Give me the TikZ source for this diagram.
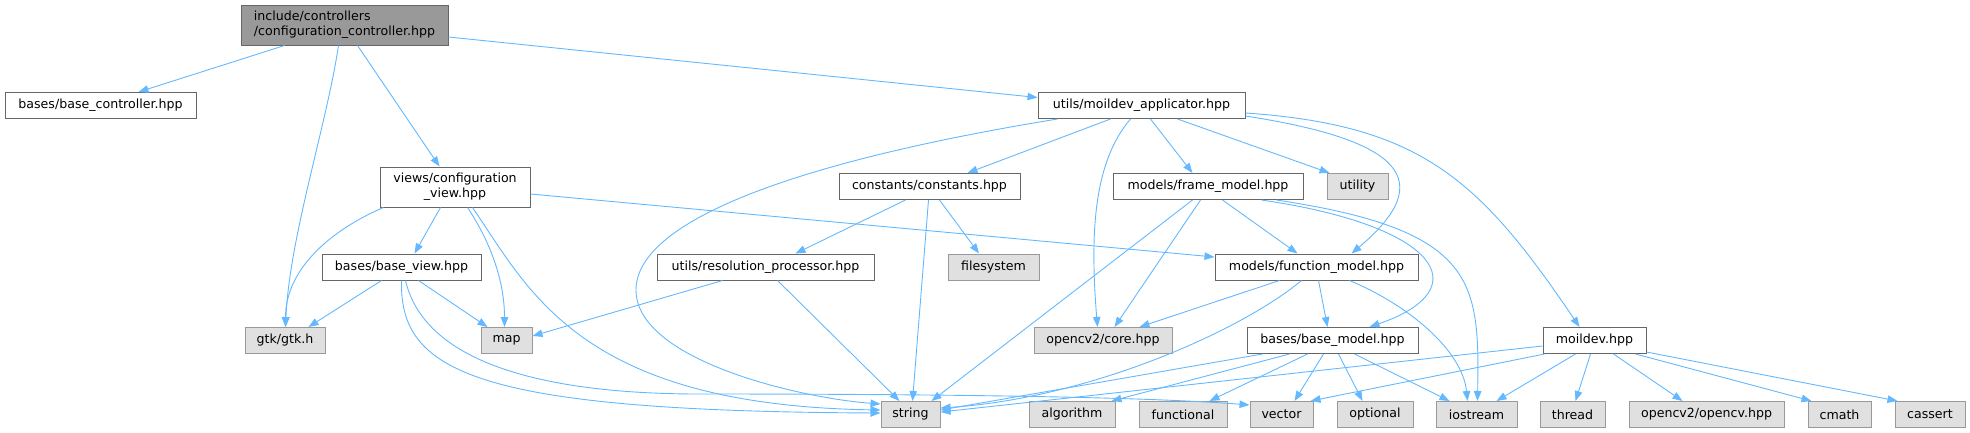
\documentclass[tikz,border=0pt]{standalone}
\usepackage{fontspec}
\setmainfont{DejaVu Sans}
\usetikzlibrary{arrows.meta, positioning}
\definecolor{dxEdge}{HTML}{63B8FF}
\definecolor{dxLine}{HTML}{666666}
\definecolor{dxSysLine}{HTML}{999999}
\definecolor{dxSysFill}{HTML}{E0E0E0}
\definecolor{dxMainFill}{HTML}{999999}
\tikzset{
  filebox/.style  = {draw=dxLine, fill=white, line width=1pt, inner sep=0pt,
                     minimum height=26pt, font=\fontsize{12.6}{15}\selectfont},
  sysbox/.style   = {filebox, draw=dxSysLine, fill=dxSysFill},
  mainbox/.style  = {filebox, fill=dxMainFill, minimum height=40pt, align=left},
  twobox/.style   = {filebox, minimum height=40pt, align=center},
  dep/.style      = {-{Triangle[length=10pt, width=7.5pt]}, dxEdge, line width=0.9pt},
}

\begin{document}
\begin{tikzpicture}[x=1pt, y=-1pt]
  \useasboundingbox (0,0) rectangle (1970,432);

  % headers of the project
  \node[mainbox, minimum width=207pt] (main) at (344.5,25)
    {include/controllers\\/configuration\_controller.hpp};
  \node[filebox, minimum width=191pt] (bctrl)   at (100.5,105.5) {bases/base\_controller.hpp};
  \node[filebox, minimum width=207pt] (appl)    at (1141.5,105.5) {utils/moildev\_applicator.hpp};
  \node[twobox,  minimum width=150pt] (cview)   at (455,187) {views/configuration\\\_view.hpp};
  \node[filebox, minimum width=181pt] (const)   at (929.5,186.5) {constants/constants.hpp};
  \node[filebox, minimum width=190pt] (frame)   at (1208,186.5) {models/frame\_model.hpp};
  \node[filebox, minimum width=159pt] (bview)   at (401.5,267) {bases/base\_view.hpp};
  \node[filebox, minimum width=217pt] (resproc) at (765.5,267) {utils/resolution\_processor.hpp};
  \node[filebox, minimum width=203pt] (func)    at (1316.5,267) {models/function\_model.hpp};
  \node[filebox, minimum width=171pt] (bmodel)  at (1332.5,340.5) {bases/base\_model.hpp};
  \node[filebox, minimum width=103pt] (moildev) at (1594.5,340.5) {moildev.hpp};

  % system headers
  \node[sysbox, minimum width=61pt]  (utility)   at (1357.5,186.5) {utility};
  \node[sysbox, minimum width=91pt]  (filesys)   at (993.5,267) {filesystem};
  \node[sysbox, minimum width=80pt]  (gtk)       at (285,340.5) {gtk/gtk.h};
  \node[sysbox, minimum width=51pt]  (map)       at (506.5,340.5) {map};
  \node[sysbox, minimum width=138pt] (core)      at (1103,340.5) {opencv2/core.hpp};
  \node[sysbox, minimum width=59pt]  (string)    at (910.5,414.5) {string};
  \node[sysbox, minimum width=86pt]  (algorithm) at (1072,414.5) {algorithm};
  \node[sysbox, minimum width=88pt]  (functional) at (1183,414.5) {functional};
  \node[sysbox, minimum width=63pt]  (vector)    at (1281.5,414.5) {vector};
  \node[sysbox, minimum width=76pt]  (optional)  at (1375,414.5) {optional};
  \node[sysbox, minimum width=81pt]  (iostream)  at (1476.5,414.5) {iostream};
  \node[sysbox, minimum width=65pt]  (thread)    at (1572.5,414.5) {thread};
  \node[sysbox, minimum width=155pt] (opencv)    at (1706.5,414.5) {opencv2/opencv.hpp};
  \node[sysbox, minimum width=63pt]  (cmath)     at (1839.5,414.5) {cmath};
  \node[sysbox, minimum width=70pt]  (cassert)   at (1930,414.5) {cassert};

  % includes of the controller
  \draw[dep] ([xshift=44pt]main.south west) -- ([xshift=134pt]bctrl.north west);
  \draw[dep] ([xshift=98pt]main.south west) .. controls +(-12,80) and +(4,-90) .. ([xshift=41pt]gtk.north west);
  \draw[dep] ([xshift=117pt]main.south west) -- ([xshift=60pt]cview.north west);
  \draw[dep] ([yshift=-12pt]main.east) -- ([yshift=8pt]appl.west);

  % includes of the view
  \draw[dep] ([yshift=-7pt]cview.east) -- ([yshift=10pt]func.west);
  \draw[dep] ([xshift=4pt]cview.south west) .. controls +(-54,23) and +(0,-57) .. ([xshift=41pt]gtk.north west);
  \draw[dep] ([xshift=61pt]cview.south west) -- ([xshift=93pt]bview.north west);
  \draw[dep] ([xshift=88pt]cview.south west) .. controls +(20,30) and +(0,-50) .. ([xshift=24pt]map.north west);
  \draw[dep] ([xshift=93pt]cview.south west) .. controls +(57,83) and +(-301,-5) .. ([yshift=4.5pt]string.west);
  \draw[dep] ([xshift=60pt]bview.south west) -- ([xshift=64pt]gtk.north west);
  \draw[dep] ([xshift=97pt]bview.south west) -- ([xshift=7pt]map.north west);
  \draw[dep] ([xshift=80pt]bview.south west) .. controls +(-2,90) and +(-410,-2) .. ([yshift=1.5pt]string.west);
  \draw[dep] ([xshift=84pt]bview.south west) .. controls +(20,85) and +(-150,0) .. (700,394)
    .. controls +(250,0) and +(-100,-8) .. ([yshift=9.5pt]vector.west);

  % includes of the applicator
  \draw[dep] ([xshift=20pt]appl.south west) .. controls +(-258,42) and +(0,-70) .. (636,290)
    .. controls +(0,70) and +(-81,-6) .. ([yshift=10.5pt]string.west);
  \draw[dep] ([xshift=73pt]appl.south west) -- ([xshift=129pt]const.north west);
  \draw[dep] ([xshift=93pt]appl.south west) .. controls +(-36,42) and +(-8,-97) .. ([xshift=64pt]core.north west);
  \draw[dep] ([xshift=113pt]appl.south west) -- ([xshift=80pt]frame.north west);
  \draw[dep] ([xshift=140pt]appl.south west) -- ([xshift=3pt]utility.north west);
  \draw[dep] ([yshift=-10.5pt]appl.east) .. controls +(155,24) and +(88,-74) .. ([xshift=137pt]func.north west);
  \draw[dep] ([yshift=-7.5pt]appl.east) .. controls +(175,12) and +(-100,-148) .. ([xshift=37pt]moildev.north west);

  % constants and resolution processor
  \draw[dep] ([xshift=67pt]const.south west) -- ([xshift=139pt]resproc.north west);
  \draw[dep] ([xshift=90pt]const.south west) -- ([xshift=32pt]string.north west);
  \draw[dep] ([xshift=101pt]const.south west) -- ([xshift=31.5pt]filesys.north west);
  \draw[dep] ([xshift=66pt]resproc.south west) -- ([yshift=4.5pt]map.east);
  \draw[dep] ([xshift=121pt]resproc.south west) -- ([xshift=19pt]string.north west);

  % frame model
  \draw[dep] ([xshift=80pt]frame.south west) -- ([xshift=51pt]string.north west);
  \draw[dep] ([xshift=88pt]frame.south west) -- ([xshift=81pt]core.north west);
  \draw[dep] ([xshift=110pt]frame.south west) -- ([xshift=83pt]func.north west);
  \draw[dep] ([xshift=164pt]frame.south west) .. controls +(200,30) and +(2,-120) .. ([xshift=42pt]iostream.north west);
  \draw[dep] ([xshift=149pt]frame.south west) .. controls +(178,26) and +(110,-38) .. ([xshift=123pt]bmodel.north west);

  % function model
  \draw[dep] ([xshift=65pt]func.south west) -- ([xshift=106pt]core.north west);
  \draw[dep] ([xshift=87pt]func.south west) .. controls +(-60,50) and +(150,-10) .. ([yshift=6.5pt]string.east);
  \draw[dep] ([xshift=104pt]func.south west) -- ([xshift=81pt]bmodel.north west);
  \draw[dep] ([xshift=135pt]func.south west) .. controls +(60,25) and +(-5,-50) .. ([xshift=32pt]iostream.north west);

  % base model
  \draw[dep] ([xshift=16pt]bmodel.south west) -- ([yshift=4.5pt]string.east);
  \draw[dep] ([xshift=43pt]bmodel.south west) -- ([xshift=83pt]algorithm.north west);
  \draw[dep] ([xshift=61pt]bmodel.south west) -- ([xshift=71pt]functional.north west);
  \draw[dep] ([xshift=77pt]bmodel.south west) -- ([xshift=45pt]vector.north west);
  \draw[dep] ([xshift=92pt]bmodel.south west) -- ([xshift=26pt]optional.north west);
  \draw[dep] ([xshift=108pt]bmodel.south west) -- ([xshift=14pt]iostream.north west);

  % moildev
  \draw[dep] ([yshift=-5.5pt]moildev.west) -- ([yshift=2.5pt]string.east);
  \draw[dep] ([xshift=2pt]moildev.south west) -- ([xshift=-3pt]vector.north east);
  \draw[dep] ([xshift=33pt]moildev.south west) -- ([xshift=61pt]iostream.north west);
  \draw[dep] ([xshift=48pt]moildev.south west) -- ([xshift=36pt]thread.north west);
  \draw[dep] ([xshift=71pt]moildev.south west) -- ([xshift=54pt]opencv.north west);
  \draw[dep] ([xshift=93pt]moildev.south west) -- ([xshift=4pt]cmath.north west);
  \draw[dep] ([yshift=2pt]moildev.south east) -- ([xshift=3pt]cassert.north west);
\end{tikzpicture}
\end{document}
